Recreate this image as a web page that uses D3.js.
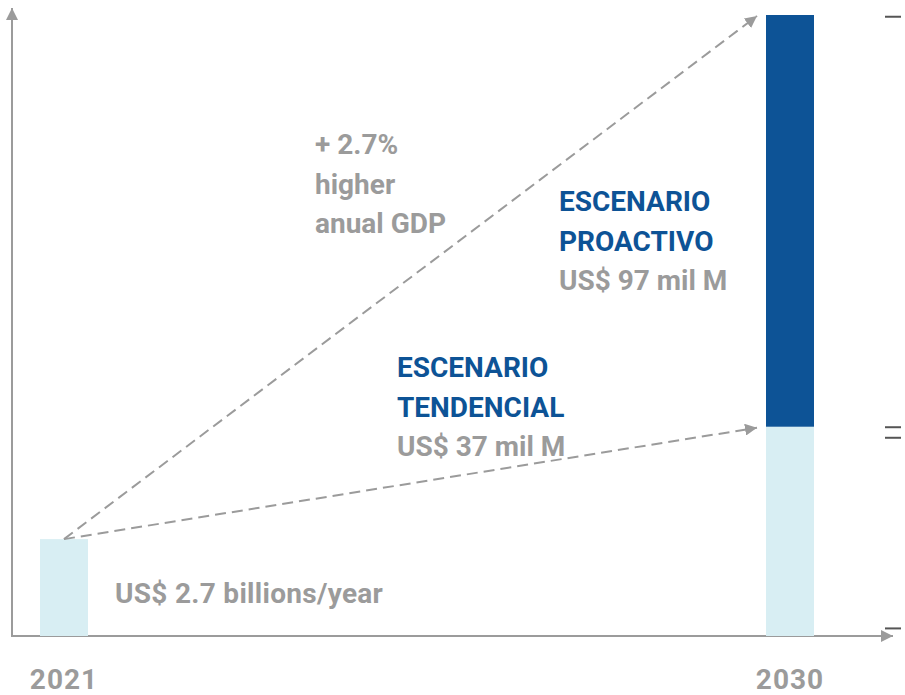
<!DOCTYPE html>
<html>
<head>
<meta charset="utf-8">
<script src="https://cdn.jsdelivr.net/npm/d3@7/dist/d3.min.js"></script>
<style>
  body { margin: 0; background: #fff; }
  svg text { font-family: Roboto, "DejaVu Sans", sans-serif; font-weight: 700; }
</style>
</head>
<body>
<div class="chart-wrapper"></div>
<script>
// data (relative bar heights, % of the tallest bar)
const years = ["2021", "2030"];
const baseValues = [15.6, 33.7];      // light part
const proactiveValues = [0, 100];     // top of dark part (0 = none)
const sideTicks = [99.8, 33.7, 32.0, 1.3];

// annotation texts
const growthText = ["+ 2.7%", "higher", "anual GDP"];
const proactivoText = ["ESCENARIO", "PROACTIVO", "US$ 97 mil M"];
const tendencialText = ["ESCENARIO", "TENDENCIAL", "US$ 37 mil M"];
const baseText = "US$ 2.7 billions/year";

const width = 905, height = 695;
const gray = "#9b9b9b", blue = "#0d5396", light = "#d8eef3";

const svg = d3.select(".chart-wrapper")
    .append("svg")
    .attr("width", width)
    .attr("height", height);

const defs = svg.append("defs");
defs.append("marker")
    .attr("id", "arrow")
    .attr("viewBox", "0 0 10 10")
    .attr("refX", 10).attr("refY", 5)
    .attr("markerWidth", 6).attr("markerHeight", 6)
    .attr("markerUnits", "strokeWidth")
    .attr("orient", "auto")
    .append("path")
    .attr("d", "M0,0 L10,5 L0,10 Z")
    .attr("fill", gray);

// scales
const xScale = d3.scalePoint().domain(years).range([64, 790]);
const yScale = d3.scaleLinear().domain([0, 100]).range([636, 15]);
const barW = 48;

// axes
svg.append("line")
    .attr("x1", 12).attr("x2", 12)
    .attr("y1", yScale(0)).attr("y2", 8)
    .attr("stroke", gray).attr("stroke-width", 2)
    .attr("marker-end", "url(#arrow)");
svg.append("line")
    .attr("x1", 11).attr("x2", 893)
    .attr("y1", yScale(0)).attr("y2", yScale(0))
    .attr("stroke", gray).attr("stroke-width", 2)
    .attr("marker-end", "url(#arrow)");

// right side tick marks
svg.append("g")
    .attr("transform", "translate(901,0)")
    .call(d3.axisLeft(yScale).tickValues(sideTicks).tickSize(16).tickFormat(""))
    .call(g => g.select(".domain").remove())
    .call(g => g.selectAll("line").attr("stroke", "#555").attr("stroke-width", 2));

// bars
svg.selectAll(".base-bar")
    .data(years)
    .enter()
    .append("rect")
    .attr("class", "base-bar")
    .attr("x", d => xScale(d) - barW / 2)
    .attr("width", barW)
    .attr("y", (d, i) => yScale(baseValues[i]))
    .attr("height", (d, i) => yScale(0) - yScale(baseValues[i]))
    .attr("fill", light);

svg.selectAll(".pro-bar")
    .data(years.filter((d, i) => proactiveValues[i] > 0))
    .enter()
    .append("rect")
    .attr("class", "pro-bar")
    .attr("x", d => xScale(d) - barW / 2)
    .attr("width", barW)
    .attr("y", d => yScale(proactiveValues[years.indexOf(d)]))
    .attr("height", d => {
        const i = years.indexOf(d);
        return yScale(baseValues[i]) - yScale(proactiveValues[i]);
    })
    .attr("fill", blue);

// dashed growth arrows
const x0 = xScale(years[0]), y0 = yScale(baseValues[0]);
const xEnd = xScale(years[1]) - barW / 2 - 9;
[proactiveValues[1], baseValues[1]].forEach(v => {
    svg.append("line")
        .attr("x1", x0).attr("y1", y0)
        .attr("x2", xEnd).attr("y2", yScale(v) + 1)
        .attr("stroke", gray).attr("stroke-width", 2)
        .attr("stroke-dasharray", "11 6")
        .attr("marker-end", "url(#arrow)");
});

// text blocks
function textBlock(lines, x, y, colors) {
    lines.forEach((t, i) => {
        svg.append("text")
            .attr("x", x).attr("y", y + i * 39.5)
            .attr("fill", colors[i])
            .style("font-size", "28px")
            .text(t);
    });
}
textBlock(growthText, 315, 154, [gray, gray, gray]);
textBlock(proactivoText, 559, 211, [blue, blue, gray]);
textBlock(tendencialText, 397, 377, [blue, blue, gray]);

svg.append("text")
    .attr("x", 115).attr("y", 603)
    .attr("fill", gray)
    .style("font-size", "28px")
    .style("letter-spacing", "0.3px")
    .text(baseText);

// year labels
svg.selectAll(".year")
    .data(years)
    .enter()
    .append("text")
    .attr("class", "year")
    .attr("x", d => xScale(d))
    .attr("y", 689)
    .attr("text-anchor", "middle")
    .attr("fill", gray)
    .style("font-size", "28px")
    .style("letter-spacing", "1px")
    .text(d => d);
</script>
</body>
</html>
